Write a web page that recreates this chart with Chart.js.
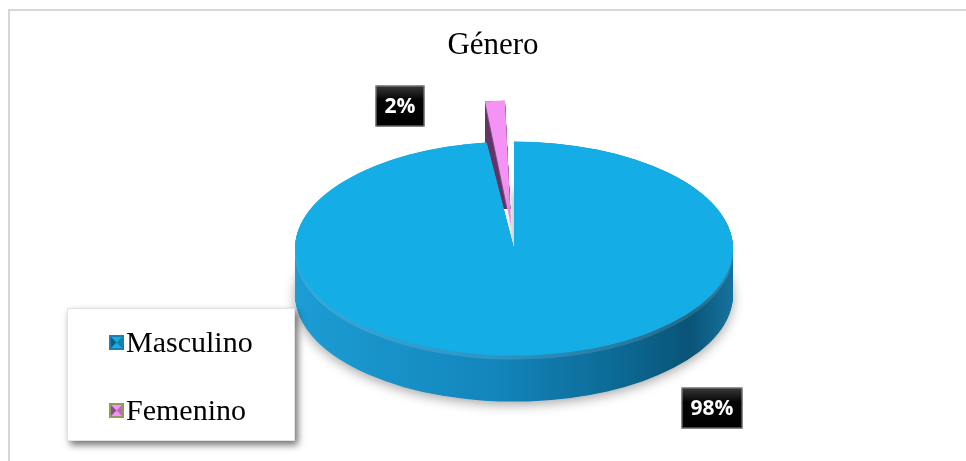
<!DOCTYPE html>
<html>
<head>
<meta charset="utf-8">
<script src="https://cdn.jsdelivr.net/npm/chart.js@4.4.1/dist/chart.umd.min.js"></script>
<style>
  html, body { margin: 0; padding: 0; background: #ffffff; }
  #wrap { width: 966px; height: 461px; position: relative; }
</style>
</head>
<body>
<div id="wrap"><canvas id="chart" width="966" height="461"></canvas></div>
<script>
// Gender breakdown (percent)
const categories = ['Masculino', 'Femenino'];
const shares = [98, 2];
const chartTitle = 'Género';

// Face colours of each slice, and the darker tones used for the slice walls
const topColors = ['#15ADE6', '#F592F5'];
const wallStops = [
  [[0, '#1C9DD4'], [0.45, '#1386BC'], [0.75, '#0C6893'], [0.9, '#0A5477'], [1, '#16739E']],
  [[0, '#6B3A6F'], [1, '#5A2E5E']]
];
const legendFrames = ['#1C7FAD', '#8E9C5C'];

const SERIF = "'Liberation Serif', 'Times New Roman', serif";

function wallGradient(ctx, arc, i, lift) {
  const g = ctx.createLinearGradient(arc.x - arc.outerRadius, 0, arc.x + arc.outerRadius, 0);
  wallStops[i].forEach(([p, c]) => g.addColorStop(p, lift ? lighten(c, lift) : c));
  return g;
}
function lighten(hex, t) {
  const n = parseInt(hex.slice(1), 16);
  const r = (n >> 16) & 255, g = (n >> 8) & 255, b = n & 255;
  const m = v => Math.round(v + (255 - v) * t);
  return `rgb(${m(r)},${m(g)},${m(b)})`;
}

// Same displacement ArcElement applies for its `offset` option
function explodeShift(arc) {
  const off = (arc.options.offset || 0) / 4;
  const fix = 1 - Math.sin(Math.min(Math.PI, arc.circumference || 0));
  const t = off * (1 + fix);
  const mid = (arc.startAngle + arc.endAngle) / 2;
  return { dx: Math.cos(mid) * t, dy: Math.sin(mid) * t };
}

// Tilts the pie into perspective and extrudes each slice into a disc wall.
// Exploded (rear) slices are painted first so the main disc sits in front.
const pie3d = {
  id: 'pie3d',
  beforeDatasetDraw(chart, args, opts) {
    const ctx = chart.ctx;
    const arcs = args.meta.data;
    if (!arcs.length) return;
    const cx = arcs[0].x, cy = arcs[0].y;
    ctx.save();
    ctx.translate(cx + opts.shiftX, cy);
    ctx.scale(1, opts.tilt);
    ctx.translate(-cx, -cy);
    const depth = opts.depth / opts.tilt;
    const order = arcs.map((a, i) => i).sort((a, b) =>
      (arcs[b].options.offset || 0) - (arcs[a].options.offset || 0));
    order.forEach(i => {
      const arc = arcs[i];
      const wall = wallGradient(ctx, arc, i, 0);
      const rim = wallGradient(ctx, arc, i, 0.12);
      ctx.save();
      if (arc.options.offset) {
        const s = explodeShift(arc);
        ctx.beginPath();
        ctx.rect(-10000, -10000, 20000, 10000 + arc.y + s.dy + 2);
        ctx.clip();
      }
      for (let d = depth; d > 0; d -= 1) {
        const ghost = Object.create(arc);
        const screenD = d * opts.tilt;
        ghost.options = Object.assign({}, arc.options, {
          backgroundColor: screenD < 4 ? rim : wall
        });
        ctx.save();
        ctx.translate(0, d);
        if (d === depth && !arc.options.offset) {
          ctx.shadowColor = 'rgba(0,0,0,0.35)';
          ctx.shadowBlur = 12;
          ctx.shadowOffsetY = 3;
        }
        ghost.draw(ctx);
        ctx.restore();
      }
      ctx.restore();
      arc.draw(ctx);
    });
    ctx.restore();
    return false;
  }
};

// Frame around the whole chart
const frame = {
  id: 'frame',
  beforeDraw(chart) {
    const ctx = chart.ctx;
    ctx.save();
    ctx.fillStyle = '#ffffff';
    ctx.fillRect(0, 0, chart.width, chart.height);
    ctx.strokeStyle = '#D6D6D6';
    ctx.lineWidth = 2;
    ctx.beginPath();
    ctx.moveTo(9, chart.height);
    ctx.lineTo(9, 10);
    ctx.lineTo(chart.width, 10);
    ctx.stroke();
    ctx.restore();
  }
};

// Percentage call-outs in black boxes
const valueTags = {
  id: 'valueTags',
  afterDraw(chart, args, opts) {
    const ctx = chart.ctx;
    const values = chart.data.datasets[0].data;
    const total = values.reduce((a, b) => a + b, 0);
    ctx.save();
    ctx.font = "bold 21px 'Open Sans', 'DejaVu Sans', sans-serif";
    ctx.textAlign = 'center';
    ctx.textBaseline = 'middle';
    values.forEach((v, i) => {
      const text = Math.round(v / total * 100) + '%';
      const [x, y] = opts.anchors[i];
      const w = ctx.measureText(text).width + 18;
      const h = 41;
      const g = ctx.createLinearGradient(0, y - h / 2, 0, y + h / 2);
      g.addColorStop(0, '#3a3a3a');
      g.addColorStop(0.35, '#050505');
      g.addColorStop(1, '#000000');
      ctx.fillStyle = g;
      ctx.fillRect(x - w / 2, y - h / 2, w, h);
      ctx.strokeStyle = '#8a8a8a';
      ctx.lineWidth = 1;
      ctx.strokeRect(x - w / 2 + 0.5, y - h / 2 + 0.5, w - 1, h - 1);
      ctx.fillStyle = '#ffffff';
      ctx.fillText(text, x, y + 1);
    });
    ctx.restore();
  }
};

// Legend panel with bevelled swatches
const legendPanel = {
  id: 'legendPanel',
  afterDraw(chart, args, opts) {
    const ctx = chart.ctx;
    const {x, y, w, h, rowY} = opts;
    ctx.save();
    ctx.shadowColor = 'rgba(0,0,0,0.55)';
    ctx.shadowBlur = 7;
    ctx.shadowOffsetX = 3;
    ctx.shadowOffsetY = 4;
    ctx.fillStyle = '#ffffff';
    ctx.fillRect(x, y, w, h);
    ctx.restore();
    ctx.save();
    ctx.strokeStyle = '#E2E2E2';
    ctx.lineWidth = 1;
    ctx.strokeRect(x + 0.5, y + 0.5, w - 1, h - 1);
    ctx.font = `30px ${SERIF}`;
    ctx.textBaseline = 'alphabetic';
    ctx.fillStyle = '#000000';
    chart.data.labels.forEach((label, i) => {
      const by = rowY[i];
      const sx = x + 42, sy = by - 17, s = 15;
      // swatch: frame, face, then bevel triangles
      ctx.fillStyle = legendFrames[i];
      ctx.fillRect(sx, sy, s, s);
      ctx.fillStyle = topColors[i];
      ctx.fillRect(sx + 2, sy + 2, s - 4, s - 4);
      ctx.fillStyle = 'rgba(0,0,0,0.45)';
      ctx.beginPath();
      ctx.moveTo(sx + 2, sy + 2);
      ctx.lineTo(sx + s / 2, sy + s / 2);
      ctx.lineTo(sx + 2, sy + s - 2);
      ctx.closePath();
      ctx.fill();
      ctx.fillStyle = 'rgba(0,0,0,0.25)';
      ctx.beginPath();
      ctx.moveTo(sx + s - 2, sy + 2);
      ctx.lineTo(sx + s / 2, sy + s / 2);
      ctx.lineTo(sx + s - 2, sy + s - 2);
      ctx.closePath();
      ctx.fill();
      ctx.fillStyle = '#000000';
      ctx.fillText(label, sx + s + 2, by);
    });
    ctx.restore();
  }
};

new Chart(document.getElementById('chart'), {
  type: 'pie',
  data: {
    labels: categories,
    datasets: [{
      data: shares,
      backgroundColor: topColors,
      borderWidth: 0,
      offset: [0, 179],
      clip: false
    }]
  },
  options: {
    responsive: false,
    animation: false,
    events: [],
    radius: 219,
    rotation: 0,
    layout: { padding: { left: 20, right: 0, top: 0, bottom: 28 } },
    plugins: {
      legend: { display: false },
      tooltip: { enabled: false },
      title: {
        display: true,
        text: chartTitle,
        color: '#000000',
        font: { family: SERIF, size: 31, weight: 'normal' },
        padding: { top: 27, bottom: 0 }
      },
      pie3d: { tilt: 0.4886, depth: 46, shiftX: 21 },
      valueTags: { anchors: [[712, 408], [400, 106]] },
      legendPanel: { x: 67, y: 308, w: 228, h: 133, rowY: [352, 420] }
    }
  },
  plugins: [frame, pie3d, legendPanel, valueTags]
});
</script>
</body>
</html>
